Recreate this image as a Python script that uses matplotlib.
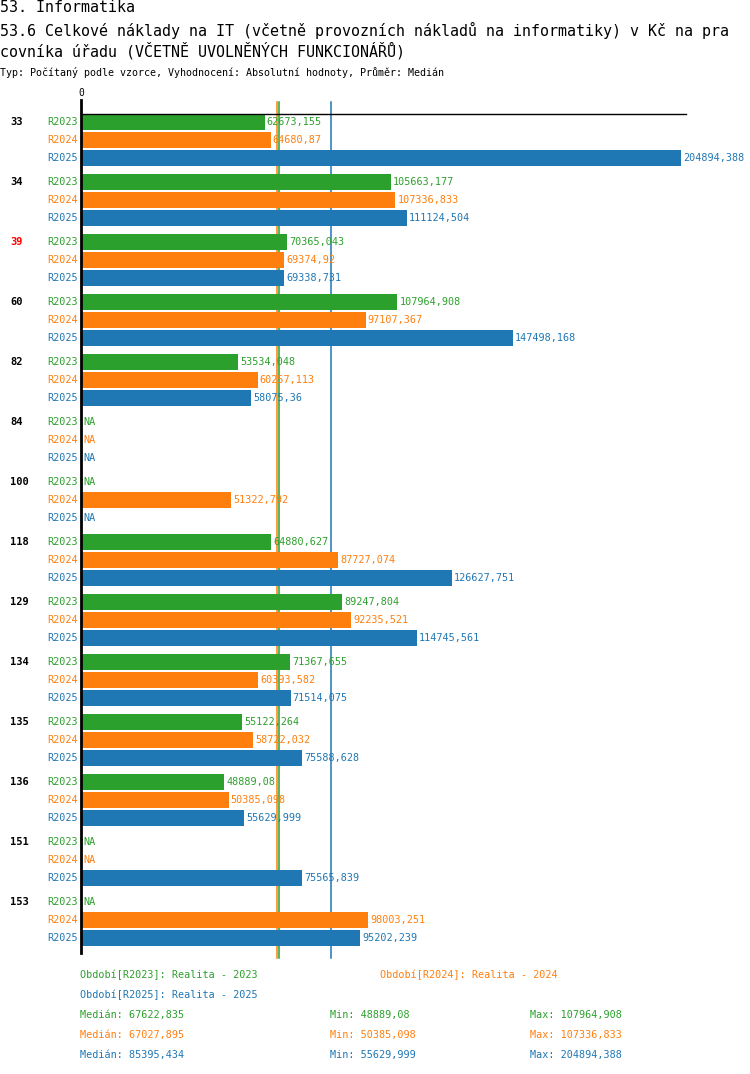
import numpy as np
import matplotlib
matplotlib.use('Agg')
import matplotlib.pyplot as plt

plt.rcParams['font.family'] = ['DejaVu Sans Mono']

groups = ['33', '34', '39', '60', '82', '84', '100', '118', '129', '134', '135', '136', '151', '153']
series = ['R2023', 'R2024', 'R2025']
r2023 = [62673.155, 105663.177, 70365.043, 107964.908, 53534.048, np.nan, np.nan,
         64880.627, 89247.804, 71367.655, 55122.264, 48889.08, np.nan, np.nan]
r2024 = [64680.87, 107336.833, 69374.92, 97107.367, 60257.113, np.nan, 51322.792,
         87727.074, 92235.521, 60393.582, 58722.032, 50385.098, np.nan, 98003.251]
r2025 = [204894.388, 111124.504, 69338.731, 147498.168, 58075.36, np.nan, np.nan,
         126627.751, 114745.561, 71514.075, 75588.628, 55629.999, 75565.839, 95202.239]
medians = [67622.835, 67027.895, 85395.434]
mins = ['48889,08', '50385,098', '55629,999']
maxs = ['107964,908', '107336,833', '204894,388']
periods = ['Realita - 2023', 'Realita - 2024', 'Realita - 2025']
highlight = '39'

colors = ['#2ca02c', '#ff7f0e', '#1f77b4']
W, H = 750, 1074


def fmt(v):
    s = ('%.3f' % v).rstrip('0').rstrip('.')
    return s.replace('.', ',')


def ftext(x, y, s, **kw):
    # place text by pixel position from top-left
    fig.text(x / W, 1 - y / H, s, va='center', **kw)


fig = plt.figure(figsize=(W / 100, H / 100), dpi=100)
ax_top, ax_bot, ax_l, ax_r = 114, 953, 81, 686
ax = fig.add_axes([ax_l / W, 1 - ax_bot / H, (ax_r - ax_l) / W, (ax_bot - ax_top) / H])

data = [r2023, r2024, r2025]
for i, g in enumerate(groups):
    for j in range(3):
        y = i * 60 + j * 18
        v = data[j][i]
        if np.isnan(v):
            ax.annotate('NA', (0, y), xytext=(2, 0), textcoords='offset pixels',
                        color=colors[j], fontsize=7.3, va='center', ha='left')
        else:
            ax.barh(y, v, height=16, color=colors[j], left=0, zorder=2)
            ax.annotate(fmt(v), (v, y), xytext=(2, 0), textcoords='offset pixels',
                        color=colors[j], fontsize=7.3, va='center', ha='left', zorder=3)
        ax.text(-3 / (ax_r - ax_l), y, series[j], transform=ax.get_yaxis_transform(),
                color=colors[j], fontsize=7.3, va='center', ha='right')
    ax.text(-71 / (ax_r - ax_l), i * 60, g, transform=ax.get_yaxis_transform(),
            color='#ff0000' if g == highlight else 'black', fontsize=7.5,
            fontweight='bold', va='center', ha='left')

ax.set_xlim(0, 206500)
ax.set_ylim(831, -8)
ax.axis('off')

ext = (ax_top - 100) / (ax_bot - ax_top)
for m, c in zip(medians, colors):
    ax.axvline(m, ymin=-0.006, ymax=1 + ext * 0.85, color=c, lw=1.1, clip_on=False, zorder=1)
ax.axvline(0, ymin=0, ymax=1 + ext, color='black', lw=2, clip_on=False, zorder=4)
ax.axhline(-8, color='black', lw=1, clip_on=False, zorder=4)
ax.text(0, 1 + ext + 0.002, '0', transform=ax.get_xaxis_transform(), fontsize=7,
        ha='center', va='bottom')

ftext(0, 8, '53. Informatika', fontsize=10.8)
ftext(0, 30, '53.6 Celkové náklady na IT (včetně provozních nákladů na informatiky) v Kč na pra', fontsize=10.8)
ftext(0, 51, 'covníka úřadu (VČETNĚ UVOLNĚNÝCH FUNKCIONÁŘŮ)', fontsize=10.8)
ftext(0, 73, 'Typ: Počítaný podle vzorce, Vyhodnocení: Absolutní hodnoty, Průměr: Medián', fontsize=7.2)

ftext(80, 975, 'Období[%s]: %s' % (series[0], periods[0]), color=colors[0], fontsize=7.3)
ftext(380, 975, 'Období[%s]: %s' % (series[1], periods[1]), color=colors[1], fontsize=7.3)
ftext(80, 995, 'Období[%s]: %s' % (series[2], periods[2]), color=colors[2], fontsize=7.3)
for k in range(3):
    yy = 1015 + k * 20
    ftext(80, yy, 'Medián: ' + fmt(medians[k]), color=colors[k], fontsize=7.3)
    ftext(330, yy, 'Min: ' + mins[k], color=colors[k], fontsize=7.3)
    ftext(530, yy, 'Max: ' + maxs[k], color=colors[k], fontsize=7.3)

fig.savefig('out.png', dpi=100)
